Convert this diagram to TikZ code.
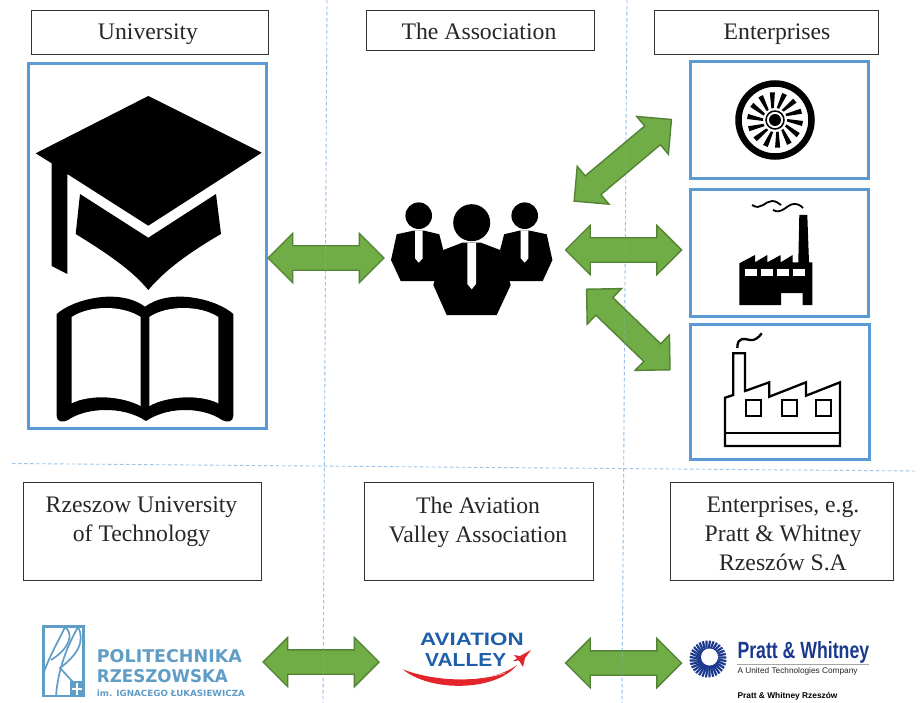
\documentclass[tikz,border=0pt]{standalone}
\usepackage{fontspec}
\setmainfont{Liberation Serif}
\newfontfamily\lsans{Liberation Sans}
\newfontfamily\dsans{DejaVu Sans}
\usetikzlibrary{shapes.arrows}
\definecolor{panelblue}{HTML}{5B9BD5}
\definecolor{guideblue}{HTML}{9CC3E8}
\definecolor{arrowfill}{HTML}{70AD47}
\definecolor{arrowline}{HTML}{548235}
\definecolor{prz}{HTML}{5F9DC6}
\definecolor{avblue}{HTML}{1D5FA8}
\definecolor{avred}{HTML}{E3242B}
\definecolor{pwblue}{HTML}{1B3A8E}
\definecolor{ink}{HTML}{262626}
\tikzset{
  guide/.style={guideblue,line width=0.9pt,dash pattern=on 3.5pt off 2.5pt},
  labelbox/.style={draw=black!80,line width=0.9pt,fill=white,minimum width=#1,inner sep=0pt,outer sep=0pt},
  panel/.style={draw=panelblue,line width=3pt,fill=white,inner sep=0pt,outer sep=0pt},
  caption/.style={text=ink,font=\fontsize{23.7}{29}\selectfont,align=center,inner sep=0pt},
  dbl/.style={shape=double arrow,draw=arrowline,fill=arrowfill,line width=1.4pt,inner xsep=0pt,inner ysep=11.5pt,
    minimum height=#1,minimum width=48pt,double arrow head extend=12.5pt,outer sep=0pt},
  icon/.style={fill=black,draw=none},
  thinicon/.style={draw=black,line width=2.3pt,fill=none,line join=miter},
  logoline/.style={draw=prz,line width=1.7pt,fill=none},
}
\begin{document}
\begin{tikzpicture}[x=1pt,y=-1pt]
\useasboundingbox (0,0) rectangle (920,703);
\fill[white] (0,0) rectangle (920,703);
% guides
\draw[guide] (327,0) -- (323,703);
\draw[guide] (627,0) -- (622,703);
\draw[guide] (12,463.5) -- (916,471);
% top labels
\node[labelbox=237pt,minimum height=44pt] (boxU) at (149.5,32) {};
\node[labelbox=228pt,minimum height=40pt] (boxA) at (480,30) {};
\node[labelbox=224pt,minimum height=44pt] (boxE) at (766,32) {};
\node[caption,anchor=base] (tU) at (148,40) {University};
\node[caption,anchor=base] (tA) at (479,40) {The Association};
\node[caption,anchor=base] (tE) at (777,40) {Enterprises};
% lower labels
\node[labelbox=238pt,minimum height=98pt] (boxR) at (142,531) {};
\node[labelbox=229pt,minimum height=98pt] (boxV) at (478.5,531) {};
\node[labelbox=223pt,minimum height=98pt] (boxP) at (781.5,531) {};
\node[caption] (tR) at (141.5,521.5) {Rzeszow University\\of Technology};
\node[caption] (tV) at (478,522) {The Aviation\\Valley Association};
\node[caption] (tP) at (783,534) {Enterprises, e.g.\\Pratt \& Whitney\\Rzeszów S.A};
% panels
\node[panel,minimum width=238pt,minimum height=365.5pt] (pU) at (147.3,245.8) {};
\node[panel,minimum width=177.5pt,minimum height=117pt] (pE1) at (779.6,120) {};
\node[panel,minimum width=177.5pt,minimum height=127pt] (pE2) at (779.6,253.3) {};
\node[panel,minimum width=178.7pt,minimum height=134.4pt] (pE3) at (780.2,392) {};
% arrows
\node[dbl=116pt] (a1) at (326,258) {};
\node[dbl=116pt] (a2) at (623.5,250) {};
\node[dbl=127pt,rotate=40] (a3) at (622.8,160.3) {};
\node[dbl=116pt,rotate=-44] (a4) at (628.3,329.5) {};
\node[dbl=116pt] (a5) at (321,662) {};
\node[dbl=116pt] (a6) at (623.5,663) {};
% guides seen faintly through the arrows
\draw[guide,opacity=0.3] (327,0) -- (323,703);
\draw[guide,opacity=0.3] (627,0) -- (622,703);
% cap and book
\fill[icon] (148.3,96) -- (261.7,152.7) -- (148.3,225.7) -- (67.3,174) -- (67.3,274) -- (51.7,266) -- (51.7,163.3) -- (35.7,153.3) -- cycle;
\fill[icon] (80,194) -- (148.3,237.7) -- (216,194) -- (221,234) .. controls (190,252) and (165,270) .. (148.3,290) .. controls (132,270) and (105,252) .. (75.7,234) -- cycle;
\fill[icon] (56.7,314) .. controls (72,300) and (118,287) .. (145,306.7) .. controls (172,287) and (218,300) .. (233.3,314)
  -- (233.3,416) .. controls (233.3,422) and (227,423) .. (222,420) .. controls (205,408) and (170,405) .. (146,421)
  .. controls (122,405) and (85,408) .. (68,420) .. controls (63,423) and (56.7,422) .. (56.7,416) -- cycle;
\fill[white] (71.7,317) .. controls (90,305) and (122,305) .. (140.7,317) -- (140.7,406) .. controls (122,396) and (90,394) .. (71.7,403.3) -- cycle;
\fill[white] (149.3,317) .. controls (167,305) and (200,305) .. (218.3,317) -- (218.3,403.3) .. controls (200,394) and (167,396) .. (149.3,406) -- cycle;
% people
\foreach \m in {1,-1}{
  \begin{scope}[shift={(471.7,0)},xscale=\m]
    \fill[icon] (-53,215.7) circle (13.3);
    \fill[icon] (-58.4,230.7) -- (-75,234.3) -- (-80.7,260) -- (-71,281) -- (-35,281) -- (-28.4,250) -- (-32.4,234.3) -- (-47.4,230.7) -- cycle;
    \fill[white] (-56.7,230.7) -- (-49,230.7) -- (-49,258.3) -- (-53,262.7) -- (-56.7,258.3) -- cycle;
  \end{scope}
}
\fill[icon] (471.7,222.7) circle (18.5);
\fill[icon] (462.3,242.7) -- (443.3,250) -- (433.3,285) -- (446.7,315) -- (496.7,315) -- (510.7,285) -- (500,250) -- (481,242.7) -- cycle;
\fill[white] (467.3,243) -- (476,243) -- (476,284) -- (471.7,289.3) -- (467.3,284) -- cycle;
% turbine
\draw[black,line width=6.5pt] (775,120) circle (36.5);
\draw[black,line width=1.5pt] (775,120) circle (9);
\fill[icon] (775,120) circle (6);
\foreach \a in {0,25.7,...,335}{
  \fill[icon,shift={(775,120)},rotate=\a] (12,-1) -- (28,1) -- (27,6) -- (12,1.5) -- cycle;
}
% black factory
\fill[icon] (739.3,263.3) -- (755,255) -- (755,262.3) -- (767.3,255) -- (767.3,262.3) -- (780.7,255) -- (780.7,262.3) -- (792.7,255) -- (792.7,262.3) -- (798.3,262.3) -- (799.3,215) -- (807.3,215) -- (809,262.3) -- (812.3,262.3) -- (812.3,305) -- (802.7,305) -- (802.7,293) -- (781,293) -- (781,305) -- (739.3,305) -- cycle;
\foreach \x in {745.3,761.3,777.3,793.3}{\fill[white] (\x,269) rectangle ++(11.2,7.3);}
\draw[black,line width=1.8pt] (752,205) .. controls (761,211) and (765,201) .. (772,201) .. controls (776,201) and (778,203) .. (781,205);
\draw[black,line width=1.8pt] (773,210) .. controls (782,215) and (787,204) .. (794,204) .. controls (798,204) and (800,205) .. (803,208);
% outline factory
\draw[thinicon] (725,446) -- (725,397.7) -- (733.3,395) -- (733.3,353.3) -- (745,353.3) -- (745,391) -- (769.3,382.3) -- (769.3,396.7) -- (806,382.3) -- (806,395.7) -- (840,382.3) -- (840,446) -- cycle;
\draw[thinicon] (725,433.3) -- (840,433.3);
\draw[thinicon] (745.7,400) rectangle (760.7,415.7);
\draw[thinicon] (781.7,400) rectangle (796.7,415.7);
\draw[thinicon] (816,400) rectangle (830.7,415.7);
\draw[thinicon] (737.3,348) .. controls (737.3,336) and (745,339) .. (750,340) .. controls (755,341) and (759,337) .. (761.7,333.3);
% Politechnika logo
\draw[prz,line width=2.2pt] (43.5,626.5) rectangle (83.5,696);
\draw[logoline] (65,627) .. controls (58,642) and (50,655) .. (44,672);
\draw[logoline] (65,627) .. controls (74,634) and (70,648) .. (51,660);
\draw[logoline] (78,627) .. controls (68,645) and (58,668) .. (56,696);
\draw[logoline] (78,627) .. controls (86,642) and (76,656) .. (60,668) -- (73,682);
\fill[prz] (70,681) rectangle (84,696.5);
\fill[white] (75.8,683) rectangle (78.2,694.5);
\fill[white] (71.8,687.6) rectangle (82.2,690);
\node[anchor=west,inner sep=0pt,text=prz] (przA) at (96.7,655.7) {\resizebox{145pt}{13pt}{\dsans\bfseries POLITECHNIKA}};
\node[anchor=west,inner sep=0pt,text=prz] (przB) at (96.7,676) {\resizebox{131pt}{13pt}{\dsans\bfseries RZESZOWSKA}};
\node[anchor=west,inner sep=0pt,text=prz] (przC) at (96.7,693) {\resizebox{148pt}{6.5pt}{\dsans\bfseries im. IGNACEGO ŁUKASIEWICZA}};
% Aviation Valley logo
\node[anchor=west,inner sep=0pt,text=avblue] (avA) at (420,639) {\resizebox{103.5pt}{12.5pt}{\lsans\bfseries AVIATION}};
\node[anchor=west,inner sep=0pt,text=avblue] (avB) at (425,659.5) {\resizebox{81pt}{13pt}{\lsans\bfseries VALLEY}};
\fill[avred] (402.7,669.3) .. controls (435,682) and (490,685) .. (517,665) .. controls (495,692) and (430,692) .. (402.7,669.3) -- cycle;
\draw[white,line width=0.5pt] (412,671) .. controls (440,681) and (480,681) .. (505,673);
\fill[avred] (531,650) -- (520,656) -- (514,655) -- (517,658.5) -- (513,661) -- (519,660.5) -- (523,667) -- (525,658) -- cycle;
% Pratt & Whitney logo
\foreach \a in {0,11.25,...,349}{
  \fill[pwblue,shift={(708,659)},rotate=\a] (7.5,-1) -- (18.5,1) -- (18.2,3.2) -- (7.5,1.1) -- cycle;
}
\fill[pwblue] (708,659) circle (10.5);
\fill[white] (709.5,657) circle (8.5);
\node[anchor=west,inner sep=0pt,text=pwblue] (pwA) at (737.3,652.5) {\resizebox{131.7pt}{17pt}{\lsans\bfseries Pratt \& Whitney}};
\draw[black!35,line width=1.5pt] (737,664.5) -- (869,664.5);
\node[anchor=west,inner sep=0pt,text=black!85] (pwB) at (737.3,671) {\resizebox{120pt}{!}{\lsans A United Technologies Company}};
\node[anchor=west,inner sep=0pt,text=black] (pwC) at (737.3,696) {\resizebox{100pt}{!}{\lsans\bfseries Pratt \& Whitney Rzeszów}};
\end{tikzpicture}
\end{document}
